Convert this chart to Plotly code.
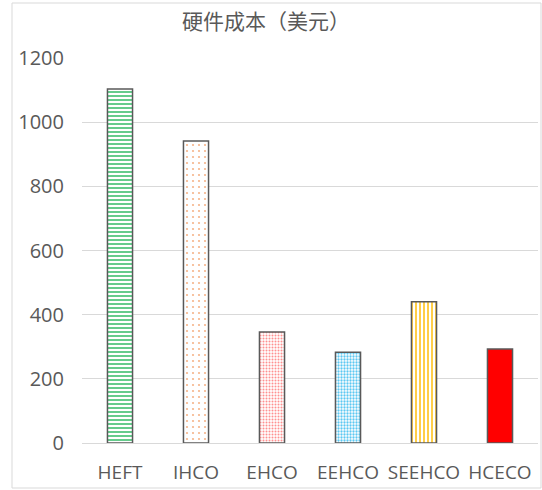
import plotly.graph_objects as go

categories = ["HEFT", "IHCO", "EHCO", "EEHCO", "SEEHCO", "HCECO"]
values = [1103, 941, 346, 283, 440, 293]
y_ticks = [0, 200, 400, 600, 800, 1000, 1200]

shapes = ["-", ".", ".", ".", "|"]
fgcolors = ["#3DBE6E", "#F6B48A", "#FF9090", "#5CC8F2", "#FFC21A"]
sizes = [4, 6, 3, 3, 4]
solidity = [0.4, 0.1, 0.35, 0.45, 0.4]
solid_color = "#FF0000"

fig = go.Figure()
fig.add_trace(go.Bar(
    x=categories[:5], y=values[:5], width=0.33,
    marker=dict(
        color="white",
        line=dict(color="#595959", width=1.5),
        pattern=dict(shape=shapes, fgcolor=fgcolors, bgcolor="white",
                     size=sizes, solidity=solidity, fillmode="replace"),
    ),
))
fig.add_trace(go.Bar(
    x=categories[5:], y=values[5:], width=0.33,
    marker=dict(color=solid_color, line=dict(color="#595959", width=1.5)),
))

fig.update_layout(
    width=542, height=490,
    margin=dict(l=82, r=4, t=58, b=47),
    paper_bgcolor="white", plot_bgcolor="white",
    barmode="overlay",
    font=dict(family="Noto Sans CJK SC, Open Sans, sans-serif", color="#595959"),
    title=dict(text="硬件成本（美元）", x=266/542, xref="container", xanchor="center",
               y=1-22/490, yref="container", yanchor="middle",
               font=dict(size=21, color="#595959", family="Noto Sans CJK SC")),
    showlegend=False,
    shapes=[dict(type="rect", xref="paper", yref="paper",
                 x0=(12-82)/456, x1=(541-82)/456, y0=(443-488)/385, y1=(443-3)/385,
                 line=dict(color="#D9D9D9", width=1))],
)
fig.update_yaxes(range=[0, 1200], tickvals=y_ticks, showgrid=True, gridcolor="#D9D9D9",
                 gridwidth=1, zeroline=False, showline=False,
                 tickfont=dict(size=20, family="Open Sans, sans-serif", color="#595959"),
                 ticklabelstandoff=17)
fig.update_xaxes(showline=True, linecolor="#D9D9D9", linewidth=1,
                 categoryorder="array", categoryarray=categories,
                 tickfont=dict(size=19, family="Open Sans, sans-serif", color="#595959"),
                 ticklabelstandoff=12)

fig.write_html("out.html")
